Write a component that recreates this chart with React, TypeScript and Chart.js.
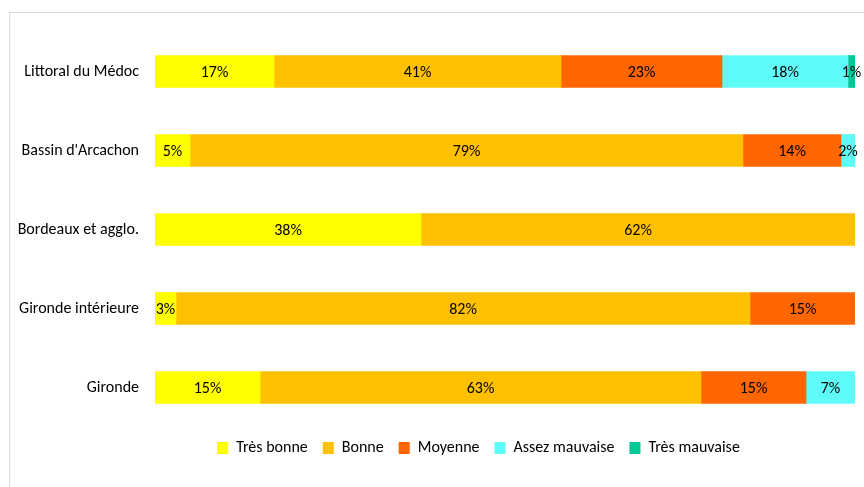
import React, { useEffect, useRef } from "react";
import { Chart, registerables } from "chart.js";

Chart.register(...registerables);

const categories = ["Littoral du Médoc", "Bassin d'Arcachon", "Bordeaux et agglo.", "Gironde intérieure", "Gironde"];
const seriesNames = ["Très bonne", "Bonne", "Moyenne", "Assez mauvaise", "Très mauvaise"];
const tresBonne = [17, 5, 38, 3, 15];
const bonne = [41, 79, 62, 82, 63];
const moyenne = [23, 14, 0, 15, 15];
const assezMauvaise = [18, 2, 0, 0, 7];
const tresMauvaise = [1, 0, 0, 0, 0];
const colors = ["#FFFF00", "#FFC000", "#FF6600", "#5FFBF8", "#00C996"];

const FONT = "Carlito, 'Liberation Sans Narrow', Lato, sans-serif";

const labelPlugin = {
  id: "valueLabels",
  afterLayout(chart: any) {
    const lg = chart.legend;
    if (lg) {
      lg.left += 51;
      lg.right += 51;
      lg.top -= 2;
      lg.bottom -= 2;
    }
  },
  afterDatasetsDraw(chart: any) {
    const ctx = chart.ctx;
    ctx.save();
    ctx.font = `16px ${FONT}`;
    ctx.fillStyle = "#000";
    ctx.textAlign = "center";
    ctx.textBaseline = "middle";
    chart.data.datasets.forEach((ds: any, i: number) => {
      const meta = chart.getDatasetMeta(i);
      meta.data.forEach((bar: any, j: number) => {
        const v = ds.data[j];
        if (!v) return;
        const { x, base, y } = bar.getProps(["x", "base", "y"], true);
        ctx.fillText(v + "%", (x + base) / 2, y + 1);
      });
    });
    ctx.restore();
  },
};

export default function App() {
  const ref = useRef<HTMLCanvasElement>(null);
  useEffect(() => {
    const data = [tresBonne, bonne, moyenne, assezMauvaise, tresMauvaise];
    const chart = new Chart(ref.current!, {
      type: "bar",
      data: {
        labels: categories,
        datasets: seriesNames.map((n, i) => ({
          label: n,
          data: data[i],
          backgroundColor: colors[i],
          borderWidth: 0,
          barThickness: 32,
        })),
      },
      options: {
        indexAxis: "y",
        responsive: false,
        animation: false,
        devicePixelRatio: 1,
        layout: { padding: { left: 0, right: 9, top: 32, bottom: 19 } },
        scales: {
          x: { stacked: true, min: 0, max: 100, display: false },
          y: {
            stacked: true,
            grid: { display: false, drawTicks: false },
            border: { display: false },
            ticks: { color: "#000", font: { family: FONT, size: 16 }, padding: 16 },
            afterFit: (s: any) => {
              s.width = 155;
            },
          },
        },
        plugins: {
          legend: {
            position: "bottom",
            labels: {
              color: "#000",
              font: { family: FONT, size: 16 },
              boxWidth: 11,
              boxHeight: 12,
              padding: 15,
            },
          },
          tooltip: { enabled: false },
        },
      },
      plugins: [labelPlugin],
    });
    return () => chart.destroy();
  }, []);
  return (
    <div style={{ position: "absolute", left: 0, top: 0, width: 864, height: 487, background: "#fff", overflow: "hidden" }}>
      <div style={{ position: "absolute", left: 9, top: 12, width: 900, height: 600, border: "1px solid #d9d9d9" }} />
      <canvas ref={ref} width={864} height={487} style={{ position: "absolute", left: 0, top: 0 }} />
    </div>
  );
}
